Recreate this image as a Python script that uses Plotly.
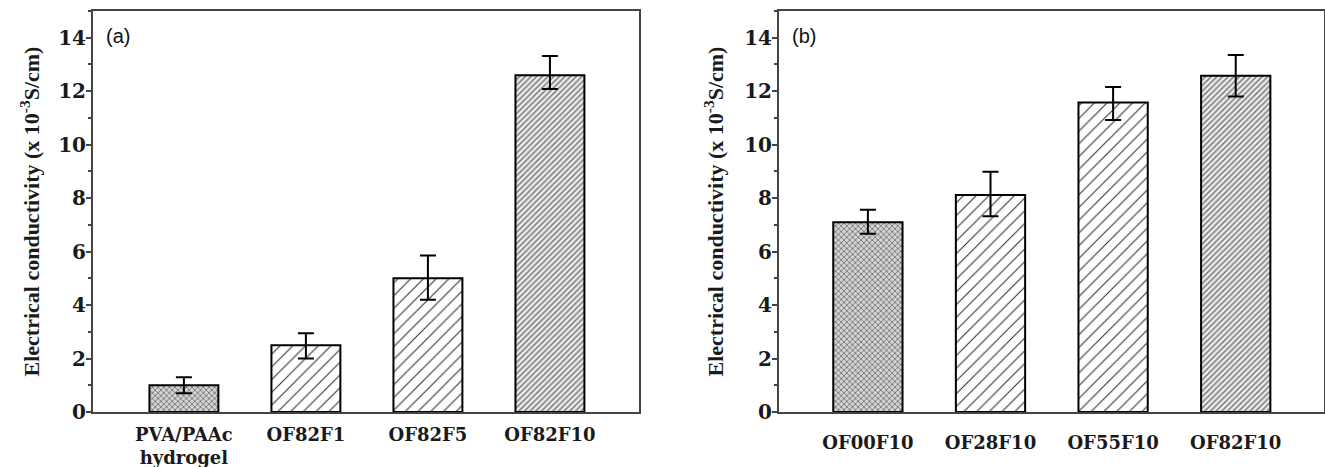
import plotly.graph_objects as go

# Panel (a)
cats_a = ["PVA/PAAc<br>hydrogel", "OF82F1", "OF82F5", "OF82F10"]
vals_a = [1.0, 2.5, 5.0, 12.6]
err_up_a = [0.3, 0.45, 0.85, 0.72]
err_dn_a = [0.3, 0.5, 0.8, 0.52]

# Panel (b)
cats_b = ["OF00F10", "OF28F10", "OF55F10", "OF82F10"]
vals_b = [7.1, 8.12, 11.58, 12.58]
err_up_b = [0.47, 0.87, 0.58, 0.77]
err_dn_b = [0.43, 0.8, 0.66, 0.78]

y_ticks = [0, 2, 4, 6, 8, 10, 12, 14]
ytitle = "Electrical conductivity (x 10<sup>-3</sup>S/cm)"

W, H = 1325, 467
def px(x):
    return x / W
def py(y):
    return (H - y) / H

serif = "Liberation Serif, Times New Roman, serif"
wide_serif = "DejaVu Serif, serif"
sans = "Liberation Sans, Arial, sans-serif"

def patterns():
    return dict(
        shape=["x", "/", "/", "/"],
        size=[4, 9, 9, 4],
        solidity=[0.3, 0.12, 0.12, 0.4],
        fgcolor=["#505050", "#333333", "#333333", "#808080"],
        bgcolor=["#d4d4d4", "white", "white", "#eeeeee"],
        fillmode="replace",
    )

fig = go.Figure()
for i, (cats, vals, eu, ed) in enumerate([(cats_a, vals_a, err_up_a, err_dn_a),
                                          (cats_b, vals_b, err_up_b, err_dn_b)]):
    xa = "x" if i == 0 else "x2"
    ya = "y" if i == 0 else "y2"
    fig.add_trace(go.Bar(
        x=list(range(len(cats))), y=vals, xaxis=xa, yaxis=ya,
        width=0.565,
        marker=dict(color="white", line=dict(color="black", width=2), pattern=patterns()),
        error_y=dict(type="data", symmetric=False, array=eu, arrayminus=ed,
                     color="black", thickness=2, width=8),
        showlegend=False, hoverinfo="skip",
    ))

ydom = [py(412), py(11)]
axis_common_y = dict(
    range=[0, 15], tickvals=y_ticks, ticks="outside", ticklen=5, tickwidth=1.5,
    tickcolor="#444", showline=True, linecolor="#444", linewidth=2, mirror=True,
    showgrid=False, zeroline=False, automargin=False,
    tickfont=dict(family=wide_serif, size=20, color="#1a1a1a", weight=700),
    ticklabelstandoff=-4,
    minor=dict(ticks="outside", dtick=1, ticklen=3, tickcolor="#444", tickwidth=1.5),
    domain=ydom,
)
xfont = dict(family=wide_serif, size=18, color="#1a1a1a", weight=700)

fig.update_layout(
    width=W, height=H, margin=dict(l=0, r=0, t=0, b=0),
    plot_bgcolor="white", paper_bgcolor="white",
    xaxis=dict(domain=[px(93), px(639)], range=[-0.745, 3.73],
               tickvals=list(range(4)), ticktext=cats_a, ticks="",
               showline=True, linecolor="#444", linewidth=2, mirror=True,
               showgrid=False, zeroline=False, anchor="y", automargin=False,
               tickfont=xfont, ticklabelstandoff=5),
    xaxis2=dict(domain=[px(779), px(1324)], range=[-0.725, 3.72],
                tickvals=list(range(4)), ticktext=cats_b, ticks="",
                showline=True, linecolor="#444", linewidth=2, mirror=True,
                showgrid=False, zeroline=False, anchor="y2", automargin=False,
                tickfont=xfont, ticklabelstandoff=13),
    yaxis=dict(anchor="x", **axis_common_y),
    yaxis2=dict(anchor="x2", **axis_common_y),
)

for xc in (29, 713):
    fig.add_annotation(text=ytitle, x=px(xc), y=(ydom[0] + ydom[1]) / 2,
                       xref="paper", yref="paper", textangle=-90, showarrow=False,
                       font=dict(family=serif, size=22, color="#1a1a1a", weight=700),
                       xanchor="center", yanchor="middle")

for label, xl in (("(a)", 104), ("(b)", 790)):
    fig.add_annotation(text=label, x=px(xl), y=py(36), xref="paper", yref="paper",
                       showarrow=False, xanchor="left", yanchor="middle",
                       font=dict(family=sans, size=20, color="#111"))

fig.write_html("out.html", config={"displayModeBar": False},
               post_script="document.body.style.margin='0';document.body.style.overflow='hidden';")
